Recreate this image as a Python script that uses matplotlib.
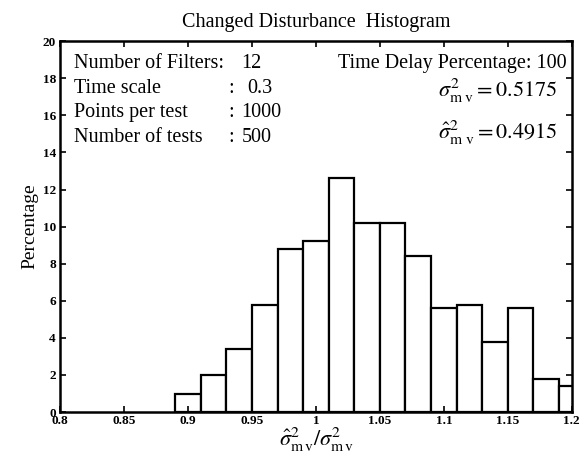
import matplotlib.pyplot as plt
import numpy as np

plt.rcParams['font.family'] = ['Liberation Serif', 'DejaVu Serif']
plt.rcParams['mathtext.fontset'] = 'stix'

# Data
bin_left = [0.89, 0.91, 0.93, 0.95, 0.97, 0.99, 1.01, 1.03, 1.05, 1.07,
            1.09, 1.11, 1.13, 1.15, 1.17, 1.19]
percentage = [1.0, 2.0, 3.4, 5.8, 8.8, 9.2, 12.6, 10.2, 10.2, 8.4,
              5.6, 5.8, 3.8, 5.6, 1.8, 1.4]
bin_width = 0.02
x_ticks = [0.8, 0.85, 0.9, 0.95, 1.0, 1.05, 1.1, 1.15, 1.2]
x_tick_labels = ['0.8', '0.85', '0.9', '0.95', '1', '1.05', '1.1', '1.15', '1.2']
y_ticks = list(range(0, 21, 2))

fig = plt.figure(figsize=(5.84, 4.63), dpi=100)
ax = fig.add_axes([0.103, 0.110, 0.876, 0.801])

ax.bar(bin_left, percentage, width=bin_width, align='edge',
       facecolor='white', edgecolor='black', linewidth=1.6)

ax.set_xlim(0.8, 1.2)
ax.set_ylim(0, 20)
ax.set_xticks(x_ticks)
ax.set_xticklabels(x_tick_labels)
ax.set_yticks(y_ticks)
ax.tick_params(direction='in', top=True, right=True, length=4, width=1.2,
               labelsize=9.5, pad=3)
ax.tick_params(axis='x', pad=2)
for lab in ax.get_xticklabels() + ax.get_yticklabels():
    lab.set_fontweight('bold')
for sp in ax.spines.values():
    sp.set_linewidth(1.8)

ax.set_title('Changed Disturbance  Histogram', fontsize=14.5, pad=10)
ax.set_ylabel('Percentage', fontsize=14, labelpad=3)
ax.set_xlabel(r'$\hat{\sigma}^2_{\mathrm{m\,v}}/\sigma^2_{\mathrm{m\,v}}$',
              fontsize=16, labelpad=-1)

fs = 14.5
left_x = 0.028
col_x = 0.328
val_x = 0.354
rows = [('Number of Filters:', '12', 0.94),
        ('Time scale', '0.3', 0.873),
        ('Points per test', '1000', 0.807),
        ('Number of tests', '500', 0.74)]
for i, (name, val, yy) in enumerate(rows):
    ax.text(left_x, yy, name, transform=ax.transAxes, fontsize=fs, va='center')
    if i > 0:
        ax.text(col_x, yy, ':', transform=ax.transAxes, fontsize=fs, va='center')
    vx = val_x + 0.012 if val == '0.3' else val_x
    ax.text(vx, yy, val, transform=ax.transAxes, fontsize=fs, va='center')

ax.text(0.99, 0.94, 'Time Delay Percentage: 100', transform=ax.transAxes,
        fontsize=fs, va='center', ha='right')
ax.text(0.972, 0.867, r'$\sigma^2_{\mathrm{m\ v}} = 0.5175$', transform=ax.transAxes,
        fontsize=16, va='center', ha='right')
ax.text(0.972, 0.752, r'$\hat{\sigma}^2_{\mathrm{m\ v}} = 0.4915$', transform=ax.transAxes,
        fontsize=16, va='center', ha='right')

fig.savefig('out.png', dpi=100)
